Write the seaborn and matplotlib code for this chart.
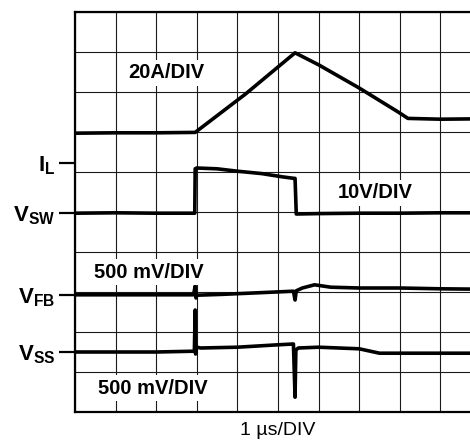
import numpy as np
import pandas as pd
import matplotlib
matplotlib.use("Agg")
import matplotlib.pyplot as plt
import seaborn as sns

# scope traces, in divisions (x: 0..10 time div, y: 0..10 vertical div)
il_x = [0.0, 1.0, 2.0, 2.96, 4.2, 5.42, 6.0, 7.0, 7.96, 8.2, 9.0, 10.0]
il_y = [6.97, 6.98, 6.98, 6.99, 7.95, 8.98, 8.68, 8.1, 7.5, 7.34, 7.32, 7.33]

sw_x = [0.0, 1.0, 2.0, 2.95, 2.96, 3.0, 3.5, 4.0, 4.6, 5.1, 5.4, 5.42, 5.45, 6.0, 7.0, 8.0, 9.0, 10.0]
sw_y = [4.97, 4.98, 4.97, 4.97, 6.08, 6.1, 6.08, 6.02, 5.96, 5.88, 5.84, 5.84, 4.95, 4.96, 4.97, 4.97, 4.98, 4.98]

fb_x = [0.0, 1.0, 2.0, 2.92, 2.96, 2.98, 3.0, 3.6, 4.5, 5.38, 5.42, 5.45, 5.6, 5.9, 6.3, 7.0, 8.0, 9.0, 10.0]
fb_y = [2.93, 2.93, 2.93, 2.93, 3.15, 2.85, 2.92, 2.94, 2.98, 3.02, 2.8, 3.03, 3.1, 3.18, 3.12, 3.1, 3.1, 3.08, 3.07]

ss_x = [0.0, 1.0, 2.0, 2.94, 2.96, 2.97, 2.99, 3.1, 4.0, 5.0, 5.38, 5.42, 5.44, 5.5, 6.0, 7.0, 7.5, 8.5, 10.0]
ss_y = [1.5, 1.5, 1.5, 1.52, 2.55, 1.45, 1.62, 1.6, 1.62, 1.68, 1.7, 0.37, 1.55, 1.6, 1.62, 1.58, 1.47, 1.47, 1.47]

channel_pos = [6.22, 4.97, 2.93, 1.5]
channel_labels = [r"$\mathbf{I_L}$", r"$\mathbf{V_{SW}}$", r"$\mathbf{V_{FB}}$", r"$\mathbf{V_{SS}}$"]

scale_text = ["20A/DIV", "10V/DIV", "500 mV/DIV", "500 mV/DIV"]
scale_x = [2.24, 7.39, 1.82, 1.92]
scale_y = [8.48, 5.48, 3.5, 0.6]

sns.set_style("white")
plt.rcParams["font.family"] = ["Liberation Sans", "DejaVu Sans"]
plt.rcParams["mathtext.fontset"] = "custom"
plt.rcParams["mathtext.rm"] = "Liberation Sans:bold"
plt.rcParams["mathtext.it"] = "Liberation Sans:bold"
plt.rcParams["mathtext.bf"] = "Liberation Sans:bold"
for key in ["text.color", "axes.labelcolor", "xtick.color", "ytick.color"]:
    plt.rcParams[key] = "black"

fig = plt.figure(figsize=(4.7, 4.4), dpi=100)
ax = fig.add_axes([75 / 470, 28 / 440, 406 / 470, 400 / 440])

traces = [(il_x, il_y), (sw_x, sw_y), (fb_x, fb_y), (ss_x, ss_y)]
for tx, ty in traces:
    sns.lineplot(x=tx, y=ty, ax=ax, color="black", linewidth=2.6,
                 estimator=None, sort=False, zorder=3)

ax.set_xlim(0, 10)
ax.set_ylim(0, 10)

ax.set_xticks([])
ax.set_xticks(np.arange(0, 11), minor=True)
ax.set_yticks(channel_pos)
ax.set_yticklabels(channel_labels, fontsize=16)
ax.set_yticks(np.arange(0, 11), minor=True)
ax.tick_params(axis="y", which="major", length=11.5, width=1.6, color="black",
               direction="out", pad=3, left=True)
ax.tick_params(which="minor", length=0)
ax.grid(which="minor", color="#1a1a1a", linewidth=0.8)
ax.grid(which="major", visible=False)
ax.set_axisbelow(True)

for side in ["left", "top", "bottom", "right"]:
    ax.spines[side].set_color("black")
    ax.spines[side].set_linewidth(1.6)

for t, x, y in zip(scale_text, scale_x, scale_y):
    ax.text(x, y, t, ha="center", va="center", fontsize=14.5, fontweight="bold",
            zorder=4, bbox=dict(facecolor="white", edgecolor="none", pad=2.5))

ax.set_xlabel("1 µs/DIV", fontsize=14, labelpad=4)

fig.savefig("out.png", dpi=100)
